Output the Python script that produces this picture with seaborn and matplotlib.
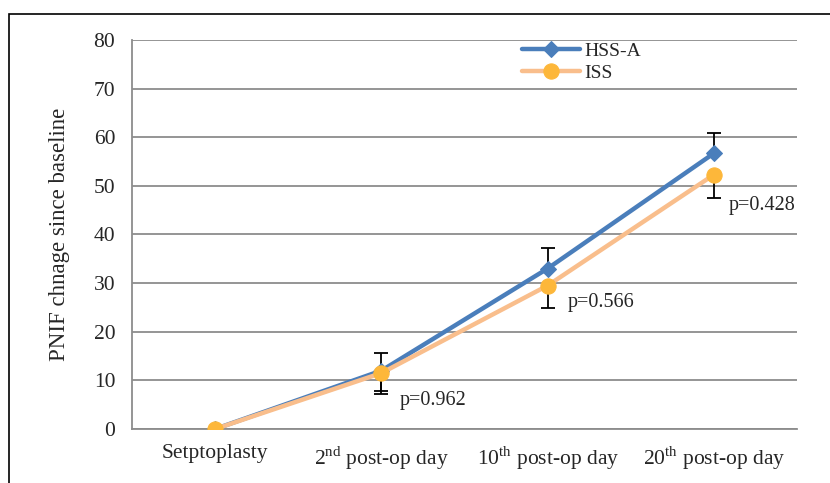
import numpy as np
import pandas as pd
import seaborn as sns
import matplotlib.pyplot as plt
from matplotlib.patches import Rectangle

# data
categories = ['Setptoplasty', r'2$^{\mathrm{nd}}$ post-op day',
              r'10$^{\mathrm{th}}$ post-op day', r'20$^{\mathrm{th}}$ post-op day']
hss_a = [0, 12.0, 33.0, 56.7]
iss = [0, 11.5, 29.5, 52.3]
hss_err_up = [0, 3.6, 4.3, 4.2]
hss_err_low = [0, 4.2, 0, 0]
iss_err_low = [0, 4.3, 4.6, 4.8]
p_labels = ['p=0.962', 'p=0.566', 'p=0.428']
p_pos = [(1.31, 5.8), (2.32, 26.1), (3.29, 45.9)]

sns.set_style('white')
plt.rcParams['font.family'] = ['Liberation Serif', 'DejaVu Serif']
plt.rcParams['mathtext.fontset'] = 'custom'
plt.rcParams['mathtext.rm'] = 'Liberation Serif'

x = np.arange(len(categories))
df = pd.DataFrame({
    'x': np.concatenate([x, x]),
    'value': hss_a + iss,
    'group': ['HSS-A'] * len(x) + ['ISS'] * len(x),
})

blue = '#4A7EBB'
orange_line = '#F9BE8C'
orange_mark = '#FDB73A'
grid_col = '#8C8C8C'

fig = plt.figure(figsize=(8.3, 4.83), dpi=100)
ax = fig.add_axes([132 / 830, 54 / 483, 665 / 830, 389 / 483])

# error bars (black, behind the lines)
ax.errorbar(x, hss_a, yerr=[hss_err_low, hss_err_up], fmt='none', ecolor='black',
            elinewidth=1.3, capsize=5, capthick=1.3, zorder=2)
ax.errorbar(x, iss, yerr=[iss_err_low, [0] * len(x)], fmt='none', ecolor='black',
            elinewidth=1.3, capsize=5, capthick=1.3, zorder=2)

sns.lineplot(data=df[df['group'] == 'HSS-A'], x='x', y='value', ax=ax, color=blue,
             lw=3.2, marker='D', markersize=8, markeredgecolor=blue, label='HSS-A', zorder=3)
sns.lineplot(data=df[df['group'] == 'ISS'], x='x', y='value', ax=ax, color=orange_line,
             lw=3.2, marker='o', markersize=11, markerfacecolor=orange_mark,
             markeredgecolor=orange_mark, label='ISS', zorder=4)

for txt, (px, py) in zip(p_labels, p_pos):
    ax.text(px, py, txt, fontsize=14.5, ha='center', va='center')

ax.set_xlim(-0.5, 3.5)
ax.set_ylim(0, 80)
ax.set_yticks(range(0, 81, 10))
ax.yaxis.grid(True, color=grid_col, lw=1.3)
ax.set_axisbelow(True)
ax.set_xticks(x)
ax.set_xticklabels(categories, fontsize=15.5)
ax.set_xticks(np.arange(-0.5, 3.6, 1), minor=True)
ax.tick_params(axis='x', which='major', length=0, pad=11)
ax.tick_params(axis='x', which='minor', length=6, color=grid_col, width=1.3, direction='out')
ax.tick_params(axis='y', length=8, color=grid_col, width=1.3, direction='out', labelsize=15.5, pad=4)
ax.set_xlabel('')
ax.set_ylabel('PNIF chnage since baseline', fontsize=16.5, labelpad=17)
for s in ['top', 'right']:
    ax.spines[s].set_visible(False)
for s in ['left', 'bottom']:
    ax.spines[s].set_color(grid_col)
    ax.spines[s].set_linewidth(1.3)

ax.legend(loc='upper left', bbox_to_anchor=(0.56, 1.04), frameon=False, fontsize=14,
          handlelength=3, labelspacing=0.25, handletextpad=0.2)

# outer frame of the figure (open at right and bottom edges)
fig.patches.append(Rectangle((9 / 830, -0.1), 1.2, (483 - 14) / 483 + 0.1,
                             transform=fig.transFigure, fill=False, ec='black', lw=1.2))

fig.savefig('out.png', dpi=100)
